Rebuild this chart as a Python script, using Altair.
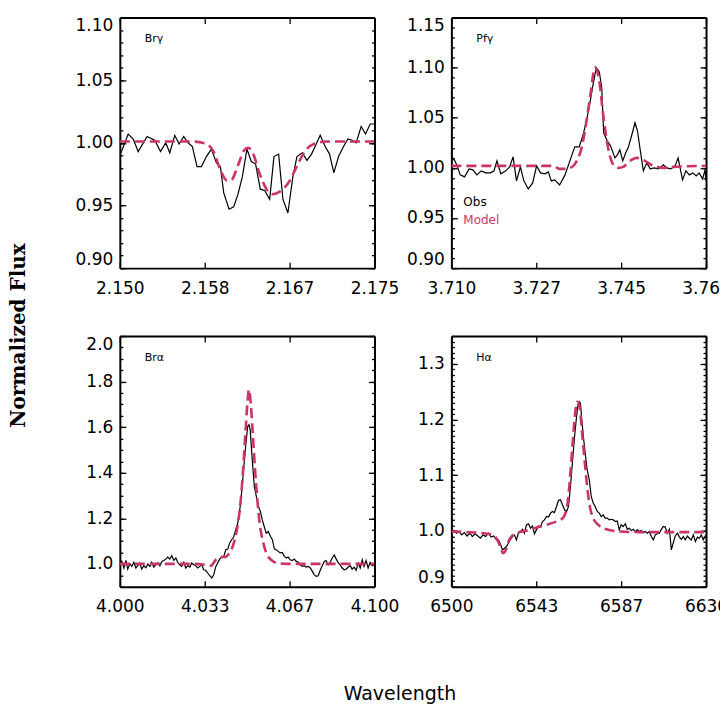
import altair as alt
import pandas as pd

FONT = "DejaVu Sans"
MOD_COLOR = "#CC3366"

# ---------------- Br gamma ----------------
BRG_OBS_W = [2.15000, 2.15026, 2.15082, 2.15131, 2.15180, 2.15268, 2.15343, 2.15399, 2.15451, 2.15490,
             2.15539, 2.15582, 2.15627, 2.15670, 2.15712, 2.15758, 2.15801, 2.15850, 2.15899, 2.15948,
             2.15987, 2.16020, 2.16072, 2.16118, 2.16160, 2.16203, 2.16248, 2.16291, 2.16333, 2.16379,
             2.16422, 2.16471, 2.16513, 2.16559, 2.16601, 2.16650, 2.16699, 2.16739, 2.16791, 2.16837,
             2.16882, 2.16928, 2.16967, 2.17016, 2.17059, 2.17101, 2.17147, 2.17196, 2.17239, 2.17281,
             2.17320, 2.17369, 2.17412, 2.17458, 2.17500]
BRG_OBS_F = [0.990, 0.995, 1.007, 1.003, 0.993, 1.005, 1.002, 0.993, 1.000, 0.992,
             1.006, 0.999, 1.005, 1.000, 0.997, 0.981, 0.981, 0.989, 0.995, 0.984,
             0.981, 0.960, 0.947, 0.949, 0.959, 0.973, 0.995, 0.985, 0.983, 0.963,
             0.962, 0.955, 0.989, 0.991, 0.955, 0.944, 0.973, 0.989, 0.992, 0.986,
             0.991, 0.999, 1.006, 0.997, 0.991, 0.976, 0.989, 0.997, 1.003, 1.002,
             1.000, 1.013, 1.007, 1.015, 1.015]
BRG_MOD_W = [2.1500, 2.1572, 2.1585, 2.1592, 2.1598, 2.1605, 2.1609, 2.1616, 2.1622, 2.1626, 2.1631,
             2.1637, 2.1644, 2.1650, 2.1657, 2.1667, 2.1673, 2.1680, 2.1686, 2.1694, 2.1703, 2.1750]
BRG_MOD_F = [1.001, 1.001, 0.999, 0.993, 0.980, 0.970, 0.970, 0.982, 0.994, 0.996, 0.991,
             0.976, 0.963, 0.959, 0.961, 0.970, 0.980, 0.991, 0.997, 1.000, 1.001, 1.001]

# ---------------- Pf gamma ----------------
PFG_OBS_W = [3.7100, 3.7107, 3.7112, 3.7118, 3.7127, 3.7136, 3.7144, 3.7152, 3.7161, 3.7170,
             3.7180, 3.7187, 3.7193, 3.7201, 3.7211, 3.7219, 3.7226, 3.7233, 3.7241, 3.7248,
             3.7257, 3.7266, 3.7274, 3.7282, 3.7291, 3.7298, 3.7304, 3.7311, 3.7321, 3.7332,
             3.7342, 3.7352, 3.7361, 3.7369, 3.7376, 3.7383, 3.7390, 3.7396, 3.7402, 3.7407,
             3.7411, 3.7418, 3.7425, 3.7434, 3.7439, 3.7444, 3.7450, 3.7456, 3.7461, 3.7468,
             3.7475, 3.7480, 3.7485, 3.7492, 3.7499, 3.7506, 3.7514, 3.7523, 3.7533, 3.7540,
             3.7548, 3.7557, 3.7563, 3.7572, 3.7579, 3.7586, 3.7593, 3.7600, 3.7606, 3.7613,
             3.7618, 3.7620]
PFG_OBS_F = [1.012, 1.007, 1.002, 0.993, 0.991, 0.999, 0.998, 0.993, 0.997, 0.995,
             0.995, 0.997, 1.007, 0.994, 0.997, 1.001, 1.011, 0.987, 1.001, 0.987,
             0.979, 0.985, 1.002, 0.995, 0.994, 0.996, 0.987, 0.988, 0.983, 0.993,
             1.007, 1.021, 1.021, 1.033, 1.047, 1.065, 1.085, 1.100, 1.096, 1.080,
             1.035, 1.027, 1.022, 1.010, 1.013, 1.018, 1.007, 1.015, 1.020, 1.032,
             1.045, 1.037, 1.020, 0.997, 1.005, 0.999, 1.000, 0.999, 1.003, 1.000,
             0.999, 1.002, 1.010, 0.988, 0.997, 0.993, 0.995, 0.992, 0.995, 0.989,
             0.998, 0.987]
PFG_MOD_W = [3.7100, 3.7308, 3.7321, 3.7335, 3.7349, 3.7356, 3.7366, 3.7376, 3.7384, 3.7393, 3.7401,
             3.7410, 3.7420, 3.7431, 3.7441, 3.7451, 3.7465, 3.7478, 3.7495, 3.7512, 3.7533, 3.7553,
             3.7620]
PFG_MOD_F = [1.002, 1.002, 0.999, 0.999, 1.002, 1.007, 1.020, 1.047, 1.073, 1.100, 1.090,
             1.053, 1.020, 1.003, 1.000, 1.001, 1.007, 1.010, 1.007, 1.002, 1.000, 1.001,
             1.002]

# ---------------- Br alpha ----------------
BRA_OBS_W = [4.0000, 4.0008, 4.0016, 4.0024, 4.0031, 4.0039, 4.0047, 4.0055, 4.0063, 4.0071,
             4.0078, 4.0086, 4.0094, 4.0102, 4.0110, 4.0118, 4.0125, 4.0133, 4.0141, 4.0149,
             4.0157, 4.0165, 4.0173, 4.0180, 4.0188, 4.0196, 4.0204, 4.0212, 4.0220, 4.0227,
             4.0235, 4.0243, 4.0251, 4.0259, 4.0267, 4.0275, 4.0282, 4.0290, 4.0298, 4.0306,
             4.0314, 4.0322, 4.0329, 4.0337, 4.0345, 4.0353, 4.0361, 4.0369, 4.0376, 4.0384,
             4.0392, 4.0400, 4.0408, 4.0416, 4.0424, 4.0431, 4.0439, 4.0447, 4.0455, 4.0463,
             4.0471, 4.0478, 4.0486, 4.0494, 4.0502,
             4.0507, 4.0512, 4.0518, 4.0523, 4.0528,
             4.0536, 4.0544, 4.0552, 4.0559, 4.0567, 4.0575, 4.0583, 4.0591, 4.0599, 4.0607,
             4.0614, 4.0622, 4.0630, 4.0638, 4.0646, 4.0654, 4.0661, 4.0669, 4.0677, 4.0685,
             4.0693, 4.0701, 4.0708, 4.0716, 4.0724, 4.0732, 4.0740, 4.0748, 4.0756, 4.0763,
             4.0771, 4.0779, 4.0787, 4.0795, 4.0803, 4.0810, 4.0818, 4.0826, 4.0834, 4.0842,
             4.0850, 4.0858, 4.0865, 4.0873, 4.0881, 4.0889, 4.0897, 4.0905, 4.0912, 4.0920,
             4.0928, 4.0936, 4.0944, 4.0952, 4.0959, 4.0967, 4.0975, 4.0983, 4.0991, 4.1000]
BRA_OBS_F = [0.992, 1.011, 0.982, 1.015, 0.977, 1.001, 0.989, 1.007, 0.982, 0.993,
             1.004, 0.977, 0.992, 0.983, 0.999, 0.989, 1.007, 0.986, 0.996, 1.004,
             0.992, 1.011, 1.015, 1.021, 1.030, 1.021, 1.036, 1.015, 1.026, 1.007,
             0.996, 0.989, 1.007, 0.982, 0.992, 0.986, 1.004, 0.996, 0.992, 0.982,
             0.989, 0.996, 0.974, 0.972, 0.960, 0.948, 0.938, 0.953, 0.986, 1.004,
             1.021, 1.030, 1.033, 1.062, 1.065, 1.091, 1.106, 1.118, 1.150, 1.179,
             1.237, 1.310, 1.413, 1.515, 1.603,
             1.611, 1.588, 1.486, 1.413, 1.340,
             1.296, 1.252, 1.230, 1.194, 1.164, 1.135, 1.142, 1.121, 1.106, 1.065,
             1.062, 1.055, 1.048, 1.050, 1.033, 1.026, 1.030, 1.018, 1.015, 1.021,
             1.011, 1.007, 0.996, 0.989, 0.992, 0.986, 0.989, 0.982, 0.967, 0.953,
             0.945, 0.948, 0.972, 0.992, 1.011, 1.015, 0.996, 1.007, 1.026, 1.039,
             1.021, 1.004, 0.996, 0.982, 0.974, 0.977, 0.986, 0.992, 0.977, 0.986,
             0.972, 1.004, 0.982, 1.018, 0.989, 1.015, 0.982, 1.007, 0.992, 0.996]
BRA_MOD_W = [4.0000, 4.0157, 4.0288, 4.0340, 4.0359, 4.0369, 4.0379, 4.0392, 4.0412, 4.0425,
             4.0438, 4.0451, 4.0464, 4.0475, 4.0484, 4.0493, 4.0501, 4.0507, 4.0514, 4.0522,
             4.0531, 4.0540, 4.0549, 4.0562, 4.0575, 4.0595, 4.0621, 4.0654, 4.1000]
BRA_MOD_F = [1.000, 1.000, 1.000, 0.995, 0.992, 1.006, 1.022, 1.030, 1.030, 1.040,
             1.062, 1.106, 1.179, 1.281, 1.413, 1.573, 1.705, 1.765, 1.705, 1.573,
             1.413, 1.281, 1.179, 1.099, 1.048, 1.017, 1.003, 1.000, 1.000]

# ---------------- H alpha ----------------
HA_OBS_W = [6500.0, 6501.2, 6502.6, 6503.9, 6505.3, 6506.6, 6508.0, 6509.4, 6510.7, 6512.1,
            6513.5, 6514.8, 6516.2, 6517.5, 6518.9, 6520.3, 6521.6, 6523.0, 6524.0, 6525.0,
            6526.1, 6527.1, 6528.1, 6529.1, 6530.2, 6531.2, 6532.2, 6533.2, 6534.2, 6535.3,
            6536.3, 6537.3, 6538.3, 6539.4, 6540.4, 6541.4, 6542.4, 6543.4, 6544.5, 6545.5,
            6546.5, 6547.5, 6548.6, 6549.6, 6550.6, 6551.6, 6552.6, 6553.7, 6554.7, 6555.7,
            6556.7, 6557.8, 6558.8, 6559.8, 6560.8, 6561.9, 6562.9, 6563.9, 6564.6, 6565.3,
            6565.9, 6566.6, 6567.3, 6568.3, 6569.3, 6570.4, 6571.4, 6572.4, 6573.4, 6574.5,
            6575.5, 6576.5, 6577.5, 6578.5, 6579.6, 6580.6, 6581.6, 6582.6, 6583.7, 6584.7,
            6585.7, 6586.7, 6587.7, 6588.8, 6589.8, 6590.8, 6591.8, 6592.9, 6593.9, 6594.9,
            6595.9, 6596.9, 6598.0, 6599.0, 6600.0, 6601.0, 6602.1, 6603.1, 6604.1, 6605.1,
            6606.2, 6607.2, 6608.2, 6609.2, 6610.2, 6611.3, 6612.3, 6613.3, 6614.3, 6615.4,
            6616.4, 6617.4, 6618.4, 6619.4, 6620.5, 6621.5, 6622.5, 6623.5, 6624.6, 6625.6,
            6626.6, 6627.6, 6628.6, 6630.0]
HA_OBS_F = [0.996, 1.001, 0.996, 0.999, 0.993, 0.997, 0.991, 0.996, 0.990, 0.995,
            0.991, 0.987, 0.993, 0.990, 0.996, 0.989, 0.991, 0.984, 0.984, 0.977,
            0.966, 0.969, 0.972, 0.978, 0.985, 0.990, 0.993, 0.984, 0.996, 0.999,
            1.003, 0.996, 1.011, 1.013, 1.005, 1.009, 0.995, 1.002, 1.009, 1.007,
            1.017, 1.020, 1.026, 1.025, 1.032, 1.035, 1.033, 1.044, 1.055, 1.056,
            1.047, 1.038, 1.035, 1.044, 1.080, 1.128, 1.170, 1.205, 1.226, 1.232,
            1.229, 1.199, 1.172, 1.140, 1.110, 1.092, 1.062, 1.050, 1.044, 1.035,
            1.032, 1.026, 1.029, 1.023, 1.023, 1.020, 1.021, 1.020, 1.017, 1.018,
            1.002, 1.011, 1.008, 1.013, 1.003, 1.005, 1.001, 1.003, 0.999, 1.002,
            0.999, 1.001, 0.997, 0.999, 0.996, 0.999, 0.990, 0.984, 0.993, 0.995,
            0.996, 1.003, 1.008, 1.007, 0.996, 1.003, 0.966, 0.979, 0.991, 0.996,
            0.989, 0.985, 0.990, 0.984, 0.991, 0.987, 0.984, 0.993, 0.981, 0.989,
            0.987, 0.993, 0.984, 0.993]
HA_MOD_W = [6500.0, 6507.7, 6516.2, 6521.3, 6523.9, 6525.6, 6526.4, 6527.8, 6529.5, 6531.5,
            6534.9, 6540.0, 6545.2, 6550.3, 6553.7, 6556.2, 6557.9, 6559.1, 6560.5, 6561.8,
            6563.2, 6564.2, 6565.3, 6566.6, 6568.0, 6569.3, 6570.7, 6572.4, 6575.0, 6579.2,
            6586.0, 6596.3, 6630.0]
HA_MOD_F = [0.999, 0.998, 0.996, 0.993, 0.981, 0.966, 0.960, 0.966, 0.984, 0.993,
            0.998, 1.002, 1.008, 1.013, 1.017, 1.021, 1.029, 1.044, 1.092, 1.152,
            1.211, 1.232, 1.226, 1.181, 1.128, 1.080, 1.044, 1.023, 1.011, 1.003,
            0.999, 0.998, 0.998]

# ---------------- axis ticks / labels ----------------
BRG_XTICKS = [2.150, 2.158333, 2.166667, 2.175]
PFG_XTICKS = [3.710, 3.727333, 3.744667, 3.762]
BRA_XTICKS = [4.000, 4.033333, 4.066667, 4.100]
HA_XTICKS = [6500, 6543.333, 6586.667, 6630]

BRG_YTICKS = [0.90, 0.95, 1.00, 1.05, 1.10]
PFG_YTICKS = [0.90, 0.95, 1.00, 1.05, 1.10, 1.15]
BRA_YTICKS = [1.0, 1.2, 1.4, 1.6, 1.8, 2.0]
HA_YTICKS = [0.9, 1.0, 1.1, 1.2, 1.3]


def minor(lo, hi, step):
    n = int(round((hi - lo) / step))
    return [round(lo + i * step, 4) for i in range(n + 1)]


AX = dict(grid=False, domainColor="black", domainWidth=2, tickColor="black",
          tickWidth=1.3, labelFont=FONT, labelFontSize=17, labelColor="black",
          labelOverlap=False)


def panel(ow, of, mw, mf, xdom, xticks, xfmt, ydom, yticks, yminor, yfmt, name,
          ytitle=None, xtitle=None, legend=False):
    obs = pd.DataFrame({"w": ow, "f": of})
    mod = pd.DataFrame({"w": mw, "f": mf})
    xs = alt.Scale(domain=xdom, nice=False, zero=False)
    ys = alt.Scale(domain=ydom, nice=False, zero=False)

    xb_kw = dict(AX, orient="bottom", values=xticks, format=xfmt,
                 tickSize={"expr": "-6"}, labelPadding=18, labelFlush=False)
    if xtitle:
        xb_kw.update(title=xtitle, titleFont=FONT, titleFontSize=19, titleFontWeight="normal",
                     titleColor="black", titleX=280, titleY=107, titleAlign="center",
                     titleBaseline="middle")
    else:
        xb_kw.update(title=None)
    yl_kw = dict(AX, orient="left", values=yticks, format=yfmt,
                 tickSize={"expr": "-6"}, labelPadding=13, labelFlush=True)
    if ytitle:
        yl_kw.update(title=ytitle, titleFont="DejaVu Serif", titleFontSize=20,
                     titleFontWeight="bold", titleColor="black", titleX=-101, titleY=318,
                     titleAlign="center", titleBaseline="middle", titleAngle=270)
    else:
        yl_kw.update(title=None)

    x_top = alt.Axis(**dict(AX, orient="top", values=xticks, labels=False,
                            tickSize={"expr": "-6"}, title=None))
    y_right = alt.Axis(**dict(AX, orient="right", values=yticks, labels=False,
                              tickSize={"expr": "-6"}, title=None))
    y_lmin = alt.Axis(**dict(AX, orient="left", values=yminor, labels=False, domain=False,
                             tickSize={"expr": "-3"}, title=None))
    y_rmin = alt.Axis(**dict(AX, orient="right", values=yminor, labels=False, domain=False,
                             tickSize={"expr": "-3"}, title=None))

    l_obs = alt.Chart(obs).mark_line(color="black", strokeWidth=1.2, clip=True).encode(
        x=alt.X("w:Q", scale=xs, axis=alt.Axis(**xb_kw)),
        y=alt.Y("f:Q", scale=ys, axis=alt.Axis(**yl_kw)),
        order="w:Q")
    l_mod = alt.Chart(mod).mark_line(color=MOD_COLOR, strokeWidth=2.6, strokeDash=[10, 5],
                                     interpolate="monotone", clip=True).encode(
        x=alt.X("w:Q", scale=xs, axis=x_top),
        y=alt.Y("f:Q", scale=ys, axis=y_right),
        order="w:Q")
    l_m1 = alt.Chart(obs).mark_line(strokeOpacity=0).encode(
        x=alt.X("w:Q", scale=xs, axis=None), y=alt.Y("f:Q", scale=ys, axis=y_lmin))
    l_m2 = alt.Chart(obs).mark_line(strokeOpacity=0).encode(
        x=alt.X("w:Q", scale=xs, axis=None), y=alt.Y("f:Q", scale=ys, axis=y_rmin))
    lab = alt.Chart(pd.DataFrame({"t": [name]})).mark_text(
        align="left", baseline="middle", font=FONT, fontSize=11, color="black").encode(
        x=alt.value(25), y=alt.value(22), text="t:N")
    layers = [l_obs, l_mod, l_m1, l_m2, lab]
    if legend:
        leg = pd.DataFrame({"t": ["Obs", "Model"], "c": ["black", MOD_COLOR]})
        layers.append(alt.Chart(leg.iloc[[0]]).mark_text(
            align="left", baseline="middle", font=FONT, fontSize=12, color="black").encode(
            x=alt.value(12), y=alt.value(185), text="t:N"))
        layers.append(alt.Chart(leg.iloc[[1]]).mark_text(
            align="left", baseline="middle", font=FONT, fontSize=12, color=MOD_COLOR).encode(
            x=alt.value(12), y=alt.value(203), text="t:N"))
    return alt.layer(*layers).resolve_axis(x="independent", y="independent").properties(
        width=255, height=251)


p1 = panel(BRG_OBS_W, BRG_OBS_F, BRG_MOD_W, BRG_MOD_F, [2.150, 2.175], BRG_XTICKS, ".3f",
           [0.90, 1.10], BRG_YTICKS, minor(0.90, 1.10, 0.01), ".2f", "Brγ",
           ytitle="Normalized Flux")
p2 = panel(PFG_OBS_W, PFG_OBS_F, PFG_MOD_W, PFG_MOD_F, [3.710, 3.762], PFG_XTICKS, ".3f",
           [0.90, 1.15], PFG_YTICKS, minor(0.90, 1.15, 0.01), ".2f", "Pfγ", legend=True)
p3 = panel(BRA_OBS_W, BRA_OBS_F, BRA_MOD_W, BRA_MOD_F, [4.000, 4.100], BRA_XTICKS, ".3f",
           [0.90, 2.00], BRA_YTICKS, minor(0.90, 2.00, 0.05), ".1f", "Brα",
           xtitle="Wavelength")
p4 = panel(HA_OBS_W, HA_OBS_F, HA_MOD_W, HA_MOD_F, [6500, 6630], HA_XTICKS, ".0f",
           [0.90, 1.35], HA_YTICKS, minor(0.90, 1.35, 0.01), ".1f", "Hα")

chart = alt.concat(p1, p2, p3, p4, columns=2, spacing={"row": 68, "column": 77},
                   bounds="flush").properties(
    padding={"left": 1, "top": 8, "right": -11, "bottom": 5}
).configure_view(stroke=None)

chart.save("out.html", embed_options={"renderer": "svg", "actions": False})
